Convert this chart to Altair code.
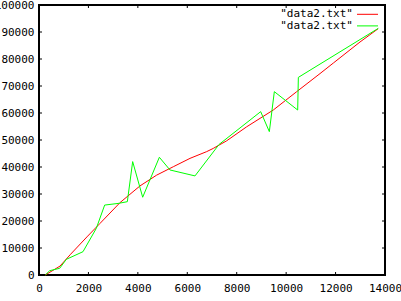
import altair as alt
import pandas as pd

# Series
red_x = [256, 850, 1280, 1970, 2468, 3277, 4087, 4762, 5434, 6110, 6785, 7054,
         7594, 8404, 9480, 10427, 11370, 11909, 12989, 13720]
red_y = [0, 3300, 7700, 14400, 19100, 26800, 33000, 37000, 40100, 43200, 45700,
         46900, 49700, 54900, 61100, 67900, 74600, 78500, 86300, 91200]

green_x = [256, 432, 837, 1106, 1780, 2320, 2657, 3196, 3574, 3790, 4195, 4870,
           5300, 6312, 7283, 8970, 9320, 9522, 10467, 10494, 13730]
green_y = [0, 1600, 2480, 5800, 8630, 17300, 25900, 26500, 27150, 42000, 28800,
           43600, 38900, 36700, 48330, 60500, 53100, 67900, 61100, 73200, 91360]

x_ticks = [0, 2000, 4000, 6000, 8000, 10000, 12000, 14000]
y_ticks = [0, 10000, 20000, 30000, 40000, 50000, 60000, 70000, 80000, 90000, 100000]
legend_labels = ['"data2.txt"', '"data2.txt"']
legend_colors = ["#ff0000", "#00ff00"]

W, H = 346, 270
FONT = "DejaVu Sans Mono"
FS = 11

red_df = pd.DataFrame({"x": red_x, "y": red_y})
green_df = pd.DataFrame({"x": green_x, "y": green_y}).reset_index()
xt_df = pd.DataFrame({"t": x_ticks})
yt_df = pd.DataFrame({"t": y_ticks})

xscale = alt.Scale(domain=[0, 14000], nice=False, zero=False)
yscale = alt.Scale(domain=[0, 100000], nice=False, zero=False)

xaxis = alt.Axis(values=x_ticks, format="d", title=None, grid=False, domain=False,
                 tickSize=0, labelPadding=7, labelFont=FONT, labelFontSize=FS,
                 labelColor="#000000", labelFlush=False, labelOverlap=False)
yaxis = alt.Axis(values=y_ticks, format="d", title=None, grid=False, domain=False,
                 tickSize=0, labelPadding=5, labelFont=FONT, labelFontSize=FS,
                 labelColor="#000000", labelFlush=False, labelOverlap=False)

X = lambda f: alt.X(f, scale=xscale, axis=xaxis)
Y = lambda f: alt.Y(f, scale=yscale, axis=yaxis)

red = alt.Chart(red_df).mark_line(color="#ff0000", strokeWidth=1).encode(
    x=X("x:Q"), y=Y("y:Q"), order="x:Q")
green = alt.Chart(green_df).mark_line(color="#00ff00", strokeWidth=1).encode(
    x=X("x:Q"), y=Y("y:Q"), order="index:Q")

tick_style = dict(color="#000000", strokeWidth=1)
xt_bottom = alt.Chart(xt_df).mark_rule(**tick_style).encode(
    x=X("t:Q"), y=alt.value(H), y2=alt.value(H - 3))
xt_top = alt.Chart(xt_df).mark_rule(**tick_style).encode(
    x=X("t:Q"), y=alt.value(0), y2=alt.value(3))
yt_left = alt.Chart(yt_df).mark_rule(**tick_style).encode(
    y=Y("t:Q"), x=alt.value(0), x2=alt.value(3))
yt_right = alt.Chart(yt_df).mark_rule(**tick_style).encode(
    y=Y("t:Q"), x=alt.value(W), x2=alt.value(W - 3))

leg_layers = []
for i, (lab, col) in enumerate(zip(legend_labels, legend_colors)):
    ly = 9.3 + i * 11.6
    d = pd.DataFrame({"label": [lab]})
    leg_layers.append(
        alt.Chart(d).mark_text(align="right", baseline="middle", font=FONT,
                               fontSize=FS, color="#000000").encode(
            text="label:N", x=alt.value(314), y=alt.value(ly)))
    leg_layers.append(
        alt.Chart(d).mark_rule(color=col, strokeWidth=1).encode(
            x=alt.value(318), x2=alt.value(339), y=alt.value(ly)))

chart = alt.layer(red, green, xt_bottom, xt_top, yt_left, yt_right, *leg_layers).properties(
    width=W, height=H,
    autosize=alt.AutoSizeParams(type="none"),
    padding={"left": 39, "top": 5, "right": 16, "bottom": 26},
    background="#ffffff",
).configure_view(stroke="#000000", strokeWidth=2)

chart.save("out.html", embed_options={"renderer": "svg", "actions": False})
